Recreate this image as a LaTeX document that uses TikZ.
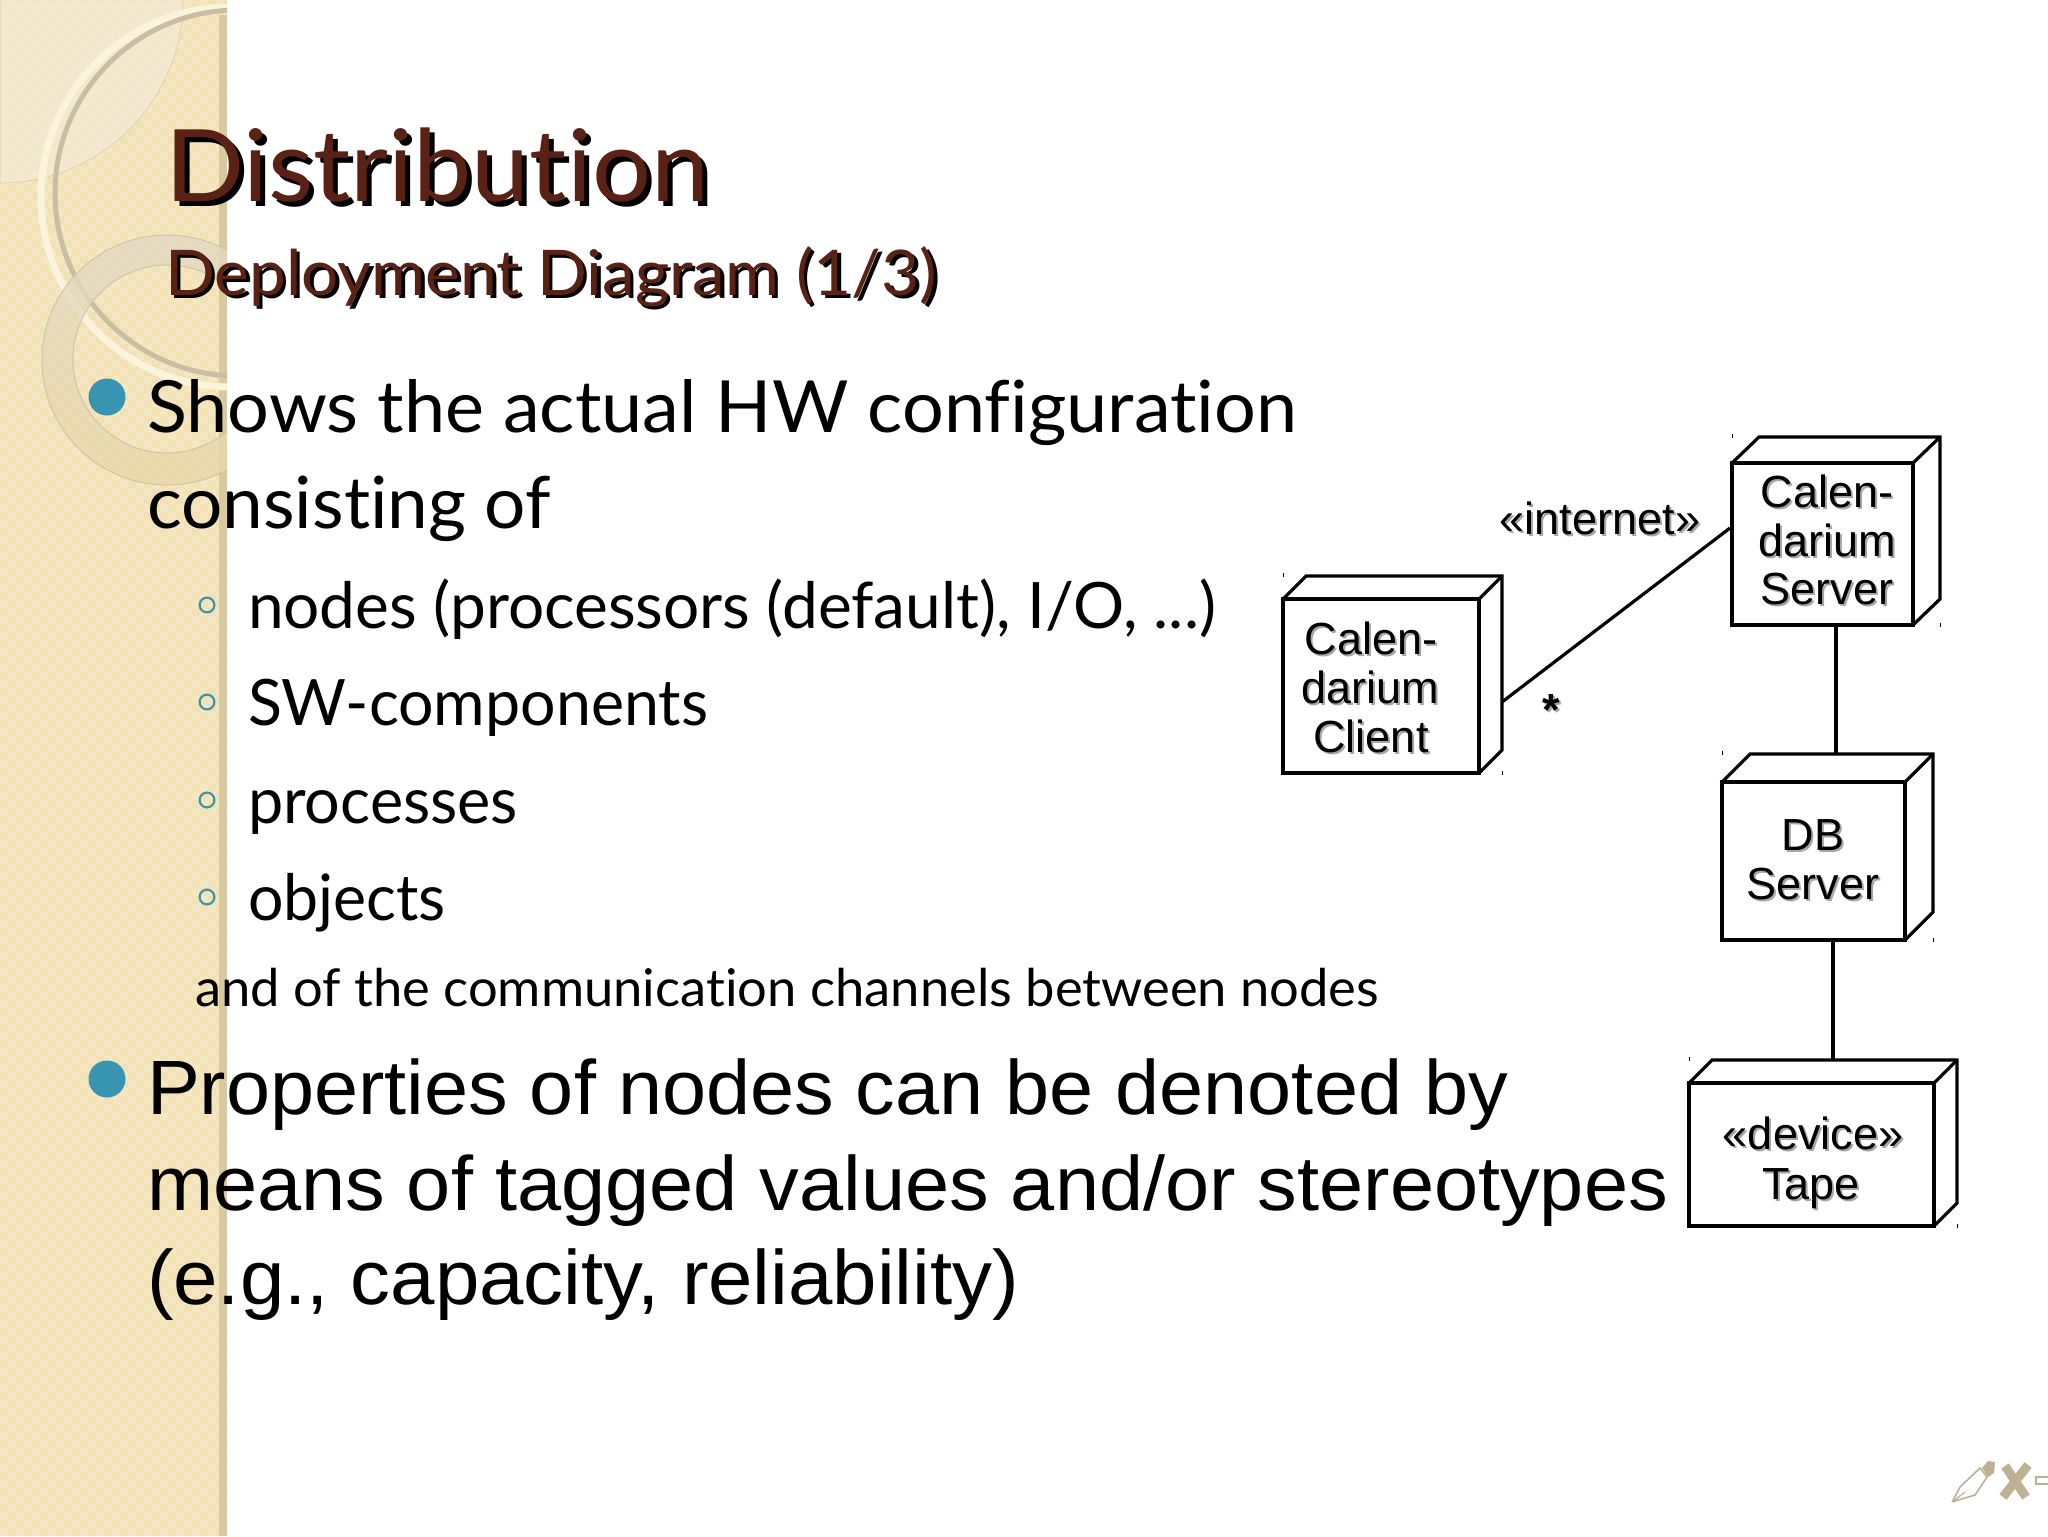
\documentclass[tikz,border=0pt]{standalone}
\usepackage{fontspec}
\usepackage{graphicx}
\setmainfont{Lato}[Ligatures=NoCommon]
\newfontfamily\arialf{Liberation Sans}
\definecolor{stripA}{HTML}{F5E7C2}
\definecolor{stripB}{HTML}{F1E1B5}
\definecolor{stripEdge}{HTML}{D8C9A0}
\definecolor{cornerC}{HTML}{F4EAD2}
\definecolor{creamC}{HTML}{FBF4DC}
\definecolor{greyC}{HTML}{C9BEA3}
\definecolor{ringT}{HTML}{E2D9C4}
\definecolor{ringB}{HTML}{E8D8A8}
\definecolor{ringE}{HTML}{CFC5A8}
\definecolor{titleC}{HTML}{5A2214}
\definecolor{bulletC}{HTML}{3795B2}
\definecolor{subdotC}{HTML}{3E95A5}
\definecolor{markC}{HTML}{BDB193}
% fit text to an exact width given in points (1 reference pixel = .5pt)
\newcommand\fitw[2]{\resizebox{#1pt}{\height}{#2}}
\newcommand\shadowed[4]{\leavevmode\rlap{\raisebox{-#2pt}{\hspace*{#2pt}\textcolor{#3}{#4}}}\textcolor{#1}{#4}}
\tikzset{
  txt/.style={inner sep=0pt,outer sep=0pt,anchor=base west,text=black},
  titletxt/.style={txt,font=\fontsize{50}{50}\selectfont},
  subtxt/.style={txt,font=\fontsize{31.5}{32}\selectfont},
  bodytxt/.style={txt,font=\fontsize{36}{36}\selectfont},
  itemtxt/.style={txt,font=\fontsize{32}{32}\selectfont},
  plaintxt/.style={txt,font=\fontsize{26}{26}\selectfont},
  propstxt/.style={txt,font=\arialf\fontsize{38.5}{38.5}\selectfont},
  bigdot/.style={circle,fill=bulletC,inner sep=0pt,minimum size=18.5pt},
  smalldot/.style={circle,draw=subdotC,line width=1.1pt,inner sep=0pt,minimum size=7.4pt},
  hull/.style={inner sep=0pt,outer sep=0pt,rectangle},
  face/.style={draw=black,fill=white,line width=1.6pt,line join=miter},
  conn/.style={draw=black,line width=1.6pt},
  umlbase/.style={inner sep=0pt,outer sep=0pt,anchor=base,font=\arialf\fontsize{22.5}{24.5}\selectfont},
}
% front face x1 y1 x2 y2, depth dx dy
\newcommand\depbox[7]{%
  \node[hull,minimum width={(#4+#6-#2)*0.5pt},minimum height={(#5+#7-#3)*0.5pt}] (#1)
     at ({(#2+#4+#6)/2},{(#3-#7+#5)/2}) {};
  \draw[face] (#2,#3) -- ({#2+#6},{#3-#7}) -- ({#4+#6},{#3-#7}) -- ({#4+#6},{#5-#7}) -- (#4,#5) -- cycle;
  \draw[face] (#4,#3) -- ({#4+#6},{#3-#7});
  \draw[face] (#2,#3) rectangle (#4,#5);
  \fill (#2-.5,{#3-#7-3}) rectangle ++(1,4);
  \fill ({#4+#6-.5},{#5-2}) rectangle ++(1,4);
}
\newcommand\sh[1]{\shadowed{black}{1}{black!35}{#1}}
\begin{document}
\begin{tikzpicture}[x=0.5pt,y=-0.5pt]
\useasboundingbox (0,0) rectangle (2048,1536);
\fill[white] (0,0) rectangle (2048,1536);
% ---- left strip
\begin{scope}
\clip (0,0) rectangle (227,1536);
\fill[stripA] (0,0) rectangle (227,1536);
\fill[stripB] \foreach \j in {0,2,...,190} { \foreach \i in {0,2,...,28} {
   ({\i*8},{\j*8}) rectangle ++(8,8) ({(\i+1)*8},{(\j+1)*8}) rectangle ++(8,8) } };
\fill[stripEdge] (219,15) rectangle (227,1536);
\fill[cornerC,opacity=.85,draw=ringE,line width=.25pt] (0,0) -- (183,0) arc[start angle=0,end angle=90,radius=183] -- cycle;
\draw[creamC,line width=3.5pt] (231,197) circle[radius=190];
\draw[greyC,line width=2.5pt] (238,193) circle[radius=183];
\shade[even odd rule,top color=ringT,bottom color=ringB,opacity=.8] (167,360) circle[radius=125] (167,359) circle[radius=94];
\draw[ringE,line width=.5pt] (167,360) circle[radius=125] (167,359) circle[radius=94];
\end{scope}
% ---- title
\node[titletxt] (title) at (165,201) {\fitw{272}{\shadowed{titleC}{2.5}{black}{Distribution}}};
\node[subtxt] (subtitle) at (165,295) {\fitw{386}{\shadowed{titleC}{1.7}{black}{Deployment Diagram (1/3)}}};
% ---- bullets and text
\node[bigdot] (b1) at (107,397) {};
\node[bodytxt] (l1) at (147,432) {\fitw{575}{Shows the actual HW configuration}};
\node[bodytxt] (l2) at (147,528) {\fitw{202}{consisting of}};
\node[smalldot] (d1) at (207,605) {};
\node[itemtxt] (i1) at (248,628) {\fitw{484}{nodes (processors (default), I/O, ...)}};
\node[smalldot] (d2) at (207,702) {};
\node[itemtxt] (i2) at (248,725) {\fitw{230}{SW-components}};
\node[smalldot] (d3) at (207,800) {};
\node[itemtxt] (i3) at (248,823) {\fitw{135}{processes}};
\node[smalldot] (d4) at (207,897) {};
\node[itemtxt] (i4) at (248,920) {\fitw{99}{objects}};
\node[plaintxt] (l3) at (195,1006) {\fitw{592}{and of the communication channels between nodes}};
\node[bigdot] (b2) at (107,1079) {};
\node[propstxt] (p1) at (147,1114) {\fitw{680.5}{Properties of nodes can be denoted by}};
\node[propstxt] (p2) at (147,1210) {\fitw{760.5}{means of tagged values and/or stereotypes}};
\node[propstxt] (p3) at (147,1304) {\fitw{436}{(e.g., capacity, reliability)}};
% ---- deployment diagram
\depbox{cli}{1283}{599}{1479}{773}{23}{23}
\depbox{srv}{1732}{463}{1913}{625}{27}{26}
\depbox{db}{1722}{782}{1905}{940}{28}{28}
\depbox{tape}{1689}{1083}{1934}{1226}{23}{23}
\draw[conn] ([yshift=-13.75pt]cli.east) -- ([xshift=-1pt,yshift=1.5pt]srv.west);
\draw[conn] (srv.south) -- (srv.south |- db.north);
\draw[conn] ([xshift=2.75pt]db.south) -- ([xshift=5pt]tape.north);
\node[umlbase] (clitext1) at (1371,654) {\sh{Calen-}};
\node[umlbase] (clitext2) at (1370,703) {\sh{darium}};
\node[umlbase] (clitext3) at (1371,752) {\sh{Client}};
\node[umlbase] (srvtext1) at (1827,507) {\sh{Calen-}};
\node[umlbase] (srvtext2) at (1827,556) {\sh{darium}};
\node[umlbase] (srvtext3) at (1827,604) {\sh{Server}};
\node[umlbase] (dbtext1) at (1813,850) {\sh{DB}};
\node[umlbase] (dbtext2) at (1813,899) {\sh{Server}};
\node[umlbase] (tapetext1) at (1813,1149) {\sh{«device»}};
\node[umlbase] (tapetext2) at (1811,1199) {\sh{Tape}};
\node[umlbase] (netlabel) at (1600,534) {\sh{«internet»}};
\node[umlbase,font=\arialf\bfseries\fontsize{22.5}{24.5}\selectfont] (multlabel) at (1551,725) {\sh{*}};
% ---- pen mark
\draw[markC,line width=.8pt,line join=round] (1952.3,1501.7) -- (1960,1487) -- (1980,1468) -- (1987,1477) -- (1975,1495) -- cycle;
\draw[markC,line width=.6pt] (1952.3,1501.7) -- (1965,1492);
\fill[markC] (1982,1468) -- (1988,1461) -- (1995,1462) -- (1994,1473) -- (1988,1477) -- cycle;
\draw[markC,line width=4.5pt] (2005,1466) -- (2026,1497);
\draw[markC,line width=4.5pt] (2028,1465) -- (2003,1497);
\draw[markC,line width=1pt] (2049,1477) -- (2036,1477) -- (2036,1484) -- (2049,1484);
\end{tikzpicture}
\end{document}
